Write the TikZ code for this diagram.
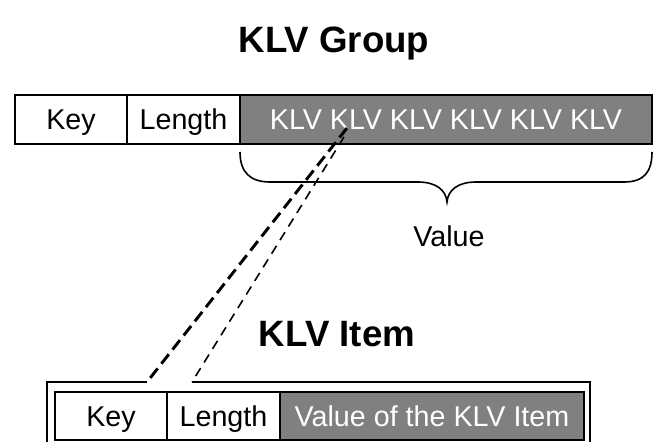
\documentclass[tikz,border=0pt]{standalone}
\usepackage{fontspec}
\setmainfont{Liberation Sans}
\usetikzlibrary{positioning}
\definecolor{cellgrey}{HTML}{808080}

\tikzset{
  cell/.style={draw, line width=1.6pt, inner sep=0pt, outer sep=0pt, anchor=north west,
    font=\fontsize{21.5}{25}\selectfont, text height=15.2pt, text depth=0pt},
  whitecell/.style={cell, fill=white, text=black},
  greycell/.style={cell, fill=cellgrey, text=white},
  toprow/.style={minimum height=36.75pt},
  itemrow/.style={minimum height=36pt},
  heading/.style={font=\fontsize{27.5}{32}\selectfont\bfseries},
  zoomthick/.style={line width=2.2pt, dash pattern=on 9pt off 4.5pt},
  zoomthin/.style={line width=1.2pt, dash pattern=on 7pt off 5pt}
}

\begin{document}
\begin{tikzpicture}[x=0.75pt, y=-0.75pt]
\useasboundingbox (0,0) rectangle (654,442);
\clip (0,0) rectangle (654,442);

% KLV group
\node[heading] (grouptitle) at (334,44) {KLV Group};
\node[whitecell, toprow, minimum width=84pt] (gkey) at (15,95) {Key};
\node[whitecell, toprow, minimum width=84.75pt, right=0pt of gkey] (glength) {Length};
\node[greycell, toprow, minimum width=309pt, right=0pt of glength] (gvalue) {KLV KLV KLV KLV KLV KLV};

% brace under the value
\draw[line width=1.2pt] (240,152) .. controls (240,172) and (250,182) .. (270,182) -- (418,182)
  .. controls (436,182) and (446,190) .. (447,202)
  .. controls (448,190) and (458,182) .. (476,182) -- (624,182)
  .. controls (644,182) and (652,172) .. (652,152);
\node[font=\fontsize{21.5}{25}\selectfont] (valuelabel) at (449,236) {Value};

% KLV item
\node[heading] (itemtitle) at (337,334) {KLV Item};
\node[whitecell, itemrow, minimum width=84pt] (ikey) at (55,392) {Key};
\node[whitecell, itemrow, minimum width=84.75pt, right=0pt of ikey] (ilength) {Length};
\node[greycell, itemrow, minimum width=228pt, right=0pt of ilength] (ivalue) {Value of the KLV Item};

% frame round the item, open between the two dashed lines
\coordinate (frameL) at (147,382);
\coordinate (frameR) at (192,382);
\draw[line width=1.6pt] (frameL) -- (47,382) -- (47,460);
\draw[line width=1.6pt] (frameR) -- (590,382) -- (590,460);

% zoom lines
\coordinate (pickA) at (347,128);
\coordinate (pickB) at (344,137);
\draw[zoomthick] (pickA) -- (frameL);
\draw[zoomthin] (pickB) -- (frameR);
\end{tikzpicture}
\end{document}
